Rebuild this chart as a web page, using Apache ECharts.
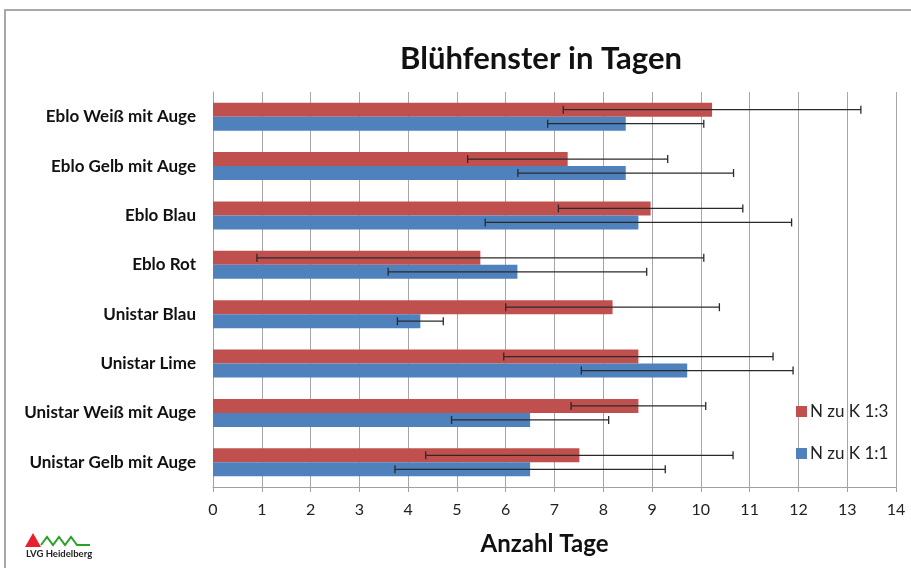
<!DOCTYPE html>
<html><head><meta charset="utf-8">
<script src="https://cdn.jsdelivr.net/npm/echarts@6/dist/echarts.min.js"></script>
<style>html,body{margin:0;padding:0;background:#fff}#c{width:911px;height:568px}</style>
</head><body><div id="c"></div>
<script>
const categories = ["Eblo Weiß mit Auge","Eblo Gelb mit Auge","Eblo Blau","Eblo Rot","Unistar Blau","Unistar Lime","Unistar Weiß mit Auge","Unistar Gelb mit Auge"];
const seriesNames = ["N zu K 1:3","N zu K 1:1"];
const redValues = [10.23,7.27,8.97,5.48,8.19,8.72,8.72,7.51];
const redErrors = [3.05,2.05,1.89,4.58,2.19,2.76,1.38,3.15];
const blueValues = [8.46,8.46,8.72,6.24,4.25,9.72,6.50,6.50];
const blueErrors = [1.60,2.21,3.14,2.65,0.47,2.17,1.61,2.77];
const xTicks = [0,1,2,3,4,5,6,7,8,9,10,11,12,13,14];

const RED = '#C0504D', BLUE = '#4F81BD';
const BAR_W = 14;
const FONT = 'Lato, "Open Sans", sans-serif';

function errSeries(vals, errs, offset) {
  return {
    type: 'custom',
    z: 5,
    silent: true,
    data: vals.map((v, i) => [i, v - errs[i], v + errs[i]]),
    encode: { x: [1, 2], y: 0 },
    renderItem: function (params, api) {
      const c = api.value(0);
      const lo = api.coord([api.value(1), c]);
      const hi = api.coord([api.value(2), c]);
      const y = lo[1] + offset;
      const h = 4;
      const st = { stroke: '#2a2a2a', lineWidth: 1.3 };
      return { type: 'group', children: [
        { type: 'line', shape: { x1: lo[0], y1: y, x2: hi[0], y2: y }, style: st },
        { type: 'line', shape: { x1: lo[0], y1: y - h, x2: lo[0], y2: y + h }, style: st },
        { type: 'line', shape: { x1: hi[0], y1: y - h, x2: hi[0], y2: y + h }, style: st }
      ]};
    }
  };
}

const chart = echarts.init(document.getElementById('c'), null, { renderer: 'canvas' });
chart.setOption({
  backgroundColor: '#fff',
  animation: false,
  title: {
    text: 'Blühfenster in Tagen', left: 536, top: 38, textAlign: 'center',
    textStyle: { fontFamily: FONT, fontSize: 31, fontWeight: 'bold', color: '#111' }
  },
  legend: {
    orient: 'vertical', left: 791, top: 398, itemGap: 25, itemWidth: 11, itemHeight: 11,
    icon: 'rect', data: seriesNames,
    textStyle: { fontFamily: FONT, fontSize: 17, color: '#222', padding: [0, 0, 0, -2] }
  },
  grid: { left: 213, right: 15, top: 92, bottom: 81, containLabel: false },
  xAxis: {
    type: 'value', min: xTicks[0], max: xTicks[xTicks.length - 1], interval: 1,
    name: 'Anzahl Tage', nameLocation: 'middle', nameGap: 45,
    nameTextStyle: { fontFamily: FONT, fontSize: 24, fontWeight: 'bold', color: '#111', padding: [0, 20, 0, 0] },
    axisLine: { show: true, lineStyle: { color: '#a0a0a0', width: 1 } },
    axisTick: { show: true, length: 5, lineStyle: { color: '#a0a0a0' } },
    axisLabel: { fontFamily: FONT, fontSize: 16, color: '#222', margin: 15 },
    splitLine: { show: true, lineStyle: { color: '#a6a6a6', width: 1 } }
  },
  yAxis: {
    type: 'category', data: categories, inverse: true,
    axisLine: { show: true, lineStyle: { color: '#a0a0a0', width: 1 } },
    axisTick: { show: false },
    axisLabel: { fontFamily: FONT, fontSize: 17, fontWeight: 'bold', color: '#111', margin: 17 },
    splitLine: { show: false }
  },
  series: [
    { name: seriesNames[0], type: 'bar', data: redValues, barWidth: BAR_W, barGap: '0%', itemStyle: { color: RED } },
    { name: seriesNames[1], type: 'bar', data: blueValues, barWidth: BAR_W, barGap: '0%', itemStyle: { color: BLUE } },
    errSeries(redValues, redErrors, -BAR_W / 2),
    errSeries(blueValues, blueErrors, BAR_W / 2)
  ],
  graphic: [
    { type: 'rect', shape: { x: 5, y: 10, width: 920, height: 580 }, style: { fill: 'none', stroke: '#a8a8a8', lineWidth: 2 }, z: 0 },
    { type: 'polygon', shape: { points: [[25, 547], [33, 533], [41, 547]] }, style: { fill: '#e8202a' } },
    { type: 'polyline', shape: { points: [[41, 545], [47, 537], [53, 545], [59, 537], [65, 545], [71, 537], [77, 545], [90, 545]] }, style: { stroke: '#2ca02c', lineWidth: 2, fill: 'none' } },
    { type: 'text', style: { x: 26, y: 549, text: 'LVG Heidelberg', fontFamily: FONT, fontSize: 9.5, fontWeight: 'bold', fill: '#222' } }
  ]
});
</script></body></html>
